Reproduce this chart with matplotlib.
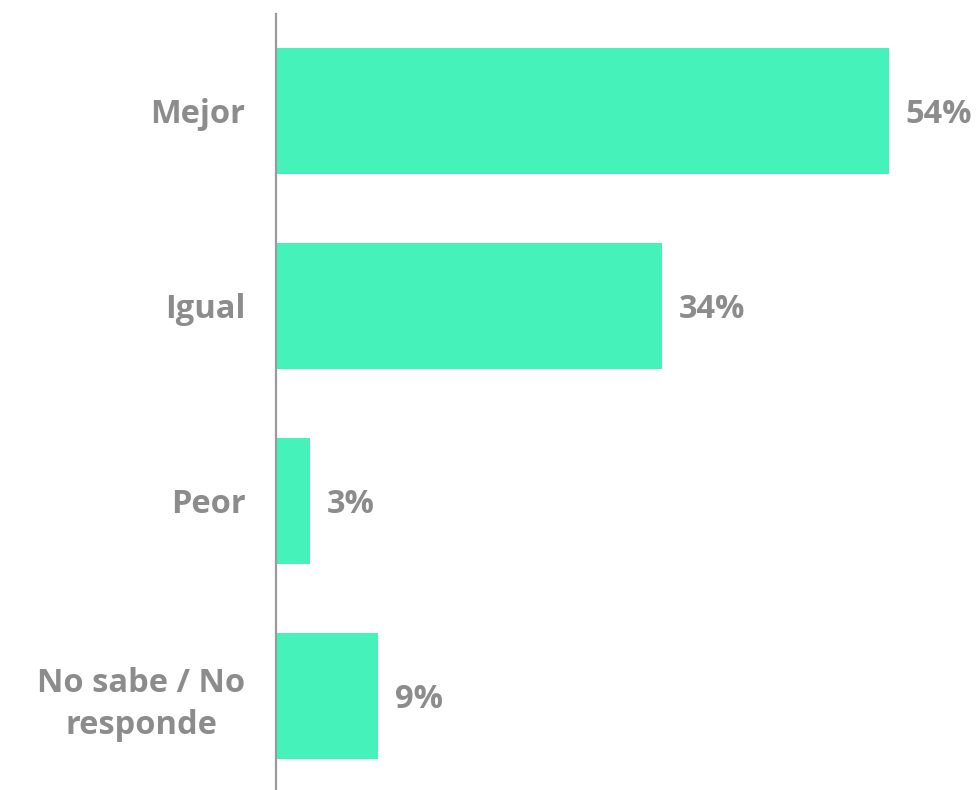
import matplotlib
matplotlib.use("Agg")
import matplotlib.pyplot as plt

# respuestas y porcentajes
categories = ["Mejor", "Igual", "Peor", "No sabe / No\nresponde"]
values = [54, 34, 3, 9]

bar_color = "#45F2BA"
text_color = "#8C8C8C"

plt.rcParams['font.family'] = ['Open Sans', 'DejaVu Sans']

fig = plt.figure(figsize=(9.76, 7.9), dpi=100)
ax = fig.add_axes([276/976, 0.0, 700/976, 776/790])

pos = list(range(len(categories)))
ax.barh(pos, values, height=0.646, color=bar_color)

ax.set_xlim(0, 700/11.35)
ax.set_ylim(3.482, -0.497)

ax.set_yticks(pos)
ax.set_yticklabels(categories, fontsize=23.5, fontweight='bold', color=text_color,
                   ha='right', multialignment='center', linespacing=1.35)
ax.tick_params(axis='y', length=0, pad=22)
ax.set_xticks([])

for s in ['top', 'right', 'bottom']:
    ax.spines[s].set_visible(False)
ax.spines['left'].set_color('#9A9A9A')
ax.spines['left'].set_linewidth(1.6)

# etiquetas de valor a la derecha de cada barra
for p, v in zip(pos, values):
    ax.annotate(f"{v}%", xy=(v, p), xytext=(12.2, -2.5), textcoords='offset points',
                va='center', ha='left', fontsize=23.5, fontweight='bold', color=text_color)

fig.savefig("out.png", dpi=100)
